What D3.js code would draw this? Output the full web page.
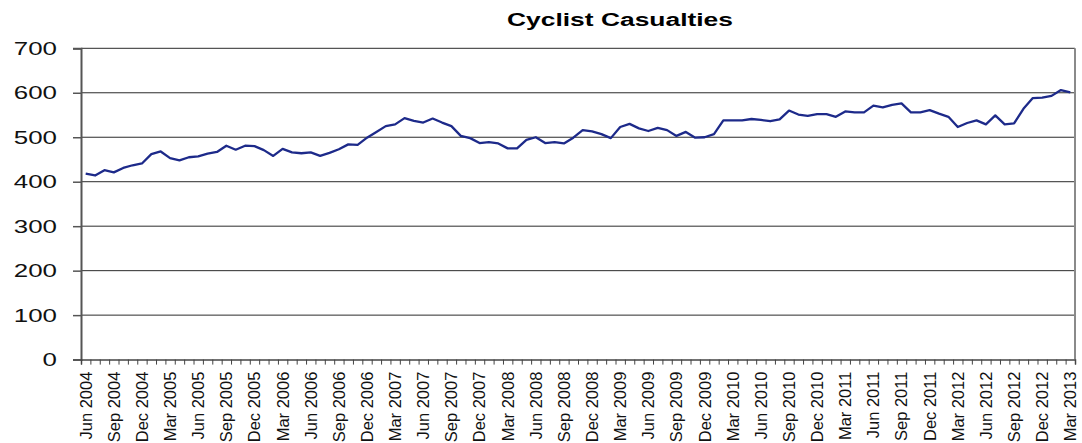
<!DOCTYPE html>
<html>
<head>
<meta charset="utf-8">
<script src="https://cdn.jsdelivr.net/npm/d3@7"></script>
<style>
  body { margin: 0; background: #fff; }
  svg { display: block; font-family: Arial, "Liberation Sans", sans-serif; }
</style>
</head>
<body>
<svg id="chart" width="1082" height="443"></svg>
<script>
// monthly cyclist casualties, Jun 2004 - Mar 2013
var months = d3.timeMonth.range(new Date(2004, 5, 1), new Date(2013, 3, 1));
var casualties = [
  418, 414, 426, 421, 431, 437, 441,
  462, 468, 453, 448, 455, 457, 463, 467, 481, 472, 481, 480,
  471, 458, 474, 466, 464, 466, 458, 465, 473, 484, 483, 499,
  512, 525, 529, 543, 537, 533, 542, 533, 525, 503, 498, 487,
  489, 486, 475, 475, 494, 500, 487, 489, 486, 499, 516, 513,
  507, 498, 523, 530, 520, 514, 521, 516, 503, 512, 499, 500,
  507, 538, 538, 538, 541, 539, 536, 540, 560, 551, 548, 552,
  552, 546, 558, 556, 556, 571, 567, 573, 576, 556, 556, 561,
  553, 546, 523, 532, 538, 529, 549, 529, 531, 564, 588, 589,
  593, 606, 601
];
var yTicks = [0, 100, 200, 300, 400, 500, 600, 700];
var title = "Cyclist Casualties";

var fmt = d3.timeFormat("%b %Y");
var labels = months.map(fmt);
var data = labels.map(function(l, i) { return {label: l, value: casualties[i]}; });

var svg = d3.select("#chart"),
    margin = {top: 48.3, right: 7, bottom: 83.4, left: 81},
    width = 1082 - margin.left - margin.right,
    height = 443 - margin.top - margin.bottom,
    g = svg.append("g").attr("transform", "translate(" + margin.left + "," + margin.top + ")");

var x = d3.scaleBand()
    .domain(labels)
    .range([0, width]);

var xIdx = d3.scaleLinear()
    .domain([0, labels.length])
    .range([0, width]);

var y = d3.scaleLinear()
    .domain([0, 700])
    .range([height, 0]);

svg.append("text")
    .attr("x", 620)
    .attr("y", 26)
    .attr("text-anchor", "middle")
    .attr("font-size", 18)
    .attr("font-weight", "bold")
    .attr("textLength", 226)
    .attr("lengthAdjust", "spacingAndGlyphs")
    .text(title);

// gridlines
g.append("g")
    .selectAll("line")
  .data(yTicks.filter(function(d) { return d > 0; }))
  .enter().append("line")
    .attr("x1", 0)
    .attr("x2", width)
    .attr("y1", function(d) { return y(d); })
    .attr("y2", function(d) { return y(d); })
    .attr("stroke", "#2b2b2b")
    .attr("stroke-width", 1);

// right border
g.append("line")
    .attr("x1", width).attr("x2", width)
    .attr("y1", 0).attr("y2", height)
    .attr("stroke", "#8a8a8a")
    .attr("stroke-width", 2);

// y axis
var yAxis = g.append("g")
    .call(d3.axisLeft(y).tickValues(yTicks).tickSize(8).tickPadding(16));
yAxis.select(".domain").attr("stroke", "#555").attr("stroke-width", 2);
yAxis.selectAll(".tick line").attr("stroke", "#555").attr("stroke-width", 1.5);
yAxis.selectAll("text")
    .attr("font-size", 19)
    .attr("fill", "#111")
    .attr("font-family", "Arial, 'Liberation Sans', sans-serif")
    .attr("textLength", function(d) { return String(d).length * 14.4; })
    .attr("lengthAdjust", "spacingAndGlyphs");

// monthly tick marks
var tickAxis = g.append("g")
    .attr("transform", "translate(0," + height + ")")
    .call(d3.axisBottom(xIdx).tickValues(d3.range(labels.length + 1)).tickSize(5).tickFormat(""));
tickAxis.select(".domain").attr("stroke", "#444").attr("stroke-width", 1.5);
tickAxis.selectAll(".tick line").attr("stroke", "#444");

// quarterly labels
var labelAxis = g.append("g")
    .attr("transform", "translate(0," + height + ")")
    .call(d3.axisBottom(x)
      .tickValues(labels.filter(function(d, i) { return i % 3 === 0; }))
      .tickSize(0));
labelAxis.select(".domain").remove();
labelAxis.selectAll("text")
    .attr("font-size", 16.5)
    .attr("fill", "#111")
    .attr("font-family", "Arial, 'Liberation Sans', sans-serif")
    .attr("text-anchor", "end")
    .attr("transform", "rotate(-90)")
    .attr("x", -12)
    .attr("y", 0)
    .attr("dy", "0.36em");

var line = d3.line()
    .x(function(d) { return x(d.label) + x.bandwidth() / 2; })
    .y(function(d) { return y(d.value); });

g.append("path")
    .datum(data)
    .attr("fill", "none")
    .attr("stroke", "#1d2a8a")
    .attr("stroke-width", 2.3)
    .attr("stroke-linejoin", "round")
    .attr("d", line);
</script>
</body>
</html>
